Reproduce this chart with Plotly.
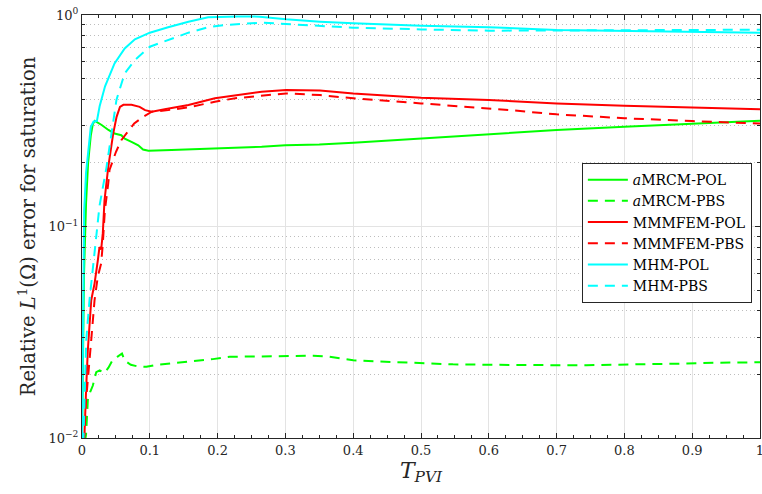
import plotly.graph_objects as go

# Relative L1 saturation error vs pore volumes injected, three methods x two schemes

t_amrcm_pol = [0, 0.001, 0.003, 0.006, 0.009, 0.013, 0.016, 0.019, 0.024, 0.029, 0.039, 0.048,
               0.058, 0.063, 0.073, 0.083, 0.09, 0.098, 0.132, 0.2, 0.265, 0.3, 0.35, 0.4,
               0.5, 0.6, 0.63, 0.7, 0.8, 0.9, 1.0]
e_amrcm_pol = [0.01, 0.02, 0.06, 0.13, 0.2, 0.27, 0.305, 0.316, 0.31, 0.302, 0.286, 0.275,
               0.27, 0.26, 0.251, 0.242, 0.231, 0.228, 0.23, 0.234, 0.238, 0.242, 0.244, 0.249,
               0.261, 0.273, 0.277, 0.286, 0.296, 0.307, 0.316]

t_amrcm_pbs = [0.004, 0.006, 0.0086, 0.012, 0.016, 0.021, 0.026, 0.033, 0.039, 0.045, 0.052,
               0.059, 0.063, 0.072, 0.082, 0.095, 0.11, 0.139, 0.164, 0.193, 0.218, 0.267,
               0.311, 0.341, 0.365, 0.4, 0.439, 0.488, 0.547, 0.597, 0.646, 0.695, 0.744,
               0.793, 0.843, 0.892, 0.941, 0.99, 1.0]
e_amrcm_pbs = [0.0095, 0.0104, 0.0151, 0.0165, 0.0177, 0.0205, 0.0209, 0.0203, 0.0215, 0.0233,
               0.0242, 0.0251, 0.0232, 0.0222, 0.0218, 0.0217, 0.0222, 0.0227, 0.023, 0.0236,
               0.0242, 0.0243, 0.0245, 0.0245, 0.0242, 0.0233, 0.023, 0.0227, 0.0223, 0.0222,
               0.0221, 0.0221, 0.0221, 0.0222, 0.0223, 0.0225, 0.0227, 0.0228, 0.0228]

t_mmmfem_pol = [0.001, 0.0037, 0.0062, 0.0086, 0.0136, 0.0185, 0.0233, 0.0258, 0.0283, 0.0307,
                0.0332, 0.0387, 0.046, 0.051, 0.056, 0.061, 0.073, 0.085, 0.093, 0.103, 0.122,
                0.132, 0.157, 0.196, 0.226, 0.265, 0.301, 0.351, 0.4, 0.5, 0.6, 0.7, 0.8, 0.9, 1.0]
e_mmmfem_pol = [0.0095, 0.0105, 0.0174, 0.026, 0.0448, 0.0537, 0.069, 0.08, 0.078, 0.093,
                0.133, 0.191, 0.275, 0.33, 0.368, 0.376, 0.376, 0.368, 0.355, 0.349, 0.358,
                0.362, 0.375, 0.404, 0.418, 0.434, 0.442, 0.44, 0.426, 0.406, 0.396, 0.382,
                0.372, 0.364, 0.358]

t_mmmfem_pbs = [0.003, 0.006, 0.0136, 0.0185, 0.0233, 0.0283, 0.0307, 0.0337, 0.0387, 0.0406,
                0.05, 0.058, 0.077, 0.09, 0.103, 0.127, 0.157, 0.196, 0.226, 0.265, 0.301,
                0.351, 0.4, 0.5, 0.6, 0.631, 0.7, 0.8, 0.9, 1.0]
e_mmmfem_pbs = [0.0095, 0.0151, 0.029, 0.0448, 0.058, 0.067, 0.083, 0.119, 0.16, 0.185,
                0.225, 0.256, 0.307, 0.33, 0.349, 0.355, 0.366, 0.389, 0.404, 0.416, 0.426,
                0.418, 0.404, 0.382, 0.362, 0.355, 0.339, 0.325, 0.315, 0.307]

t_mhm_pol = [0, 0.001, 0.002, 0.0032, 0.006, 0.009, 0.013, 0.017, 0.022, 0.026, 0.03, 0.034,
             0.048, 0.063, 0.078, 0.1, 0.127, 0.157, 0.186, 0.206, 0.23, 0.262, 0.301, 0.351,
             0.4, 0.5, 0.6, 0.7, 0.8, 0.9, 1.0]
e_mhm_pol = [0.0095, 0.02, 0.05, 0.119, 0.18, 0.23, 0.296, 0.313, 0.316, 0.37, 0.41, 0.46,
             0.59, 0.695, 0.767, 0.825, 0.875, 0.93, 0.975, 0.982, 0.985, 0.982, 0.954, 0.93,
             0.913, 0.89, 0.875, 0.85, 0.843, 0.834, 0.825]

t_mhm_pbs = [0.002, 0.0062, 0.0111, 0.0185, 0.0258, 0.0362, 0.0434, 0.0483, 0.0509, 0.063,
             0.078, 0.1, 0.127, 0.157, 0.186, 0.211, 0.265, 0.301, 0.361, 0.4, 0.5, 0.6,
             0.7, 0.8, 0.9, 1.0]
e_mhm_pbs = [0.0095, 0.029, 0.045, 0.077, 0.125, 0.191, 0.275, 0.355, 0.398, 0.53, 0.612,
             0.708, 0.76, 0.825, 0.875, 0.897, 0.92, 0.906, 0.887, 0.871, 0.855, 0.843,
             0.845, 0.848, 0.85, 0.852]

x_ticks = [0, 0.1, 0.2, 0.3, 0.4, 0.5, 0.6, 0.7, 0.8, 0.9, 1]
x_ticklabels = ["0", "0.1", "0.2", "0.3", "0.4", "0.5", "0.6", "0.7", "0.8", "0.9", "1"]
y_ticks = [0.01, 0.1, 1]
y_ticklabels = ["10<sup>\u22122</sup>", "10<sup>\u22121</sup>", "10<sup>0</sup>"]
y_minor = [m * d for d in (0.01, 0.1) for m in range(2, 10)]

GREEN, RED, CYAN = "#00ff00", "#ff0000", "#00ffff"
DASH = "10px,7px"
FONT = "DejaVu Serif, Liberation Serif, serif"
INK = "#262626"

series = [
    ("<i>a</i>MRCM-POL", t_amrcm_pol, e_amrcm_pol, GREEN, "solid"),
    ("<i>a</i>MRCM-PBS", t_amrcm_pbs, e_amrcm_pbs, GREEN, DASH),
    ("MMMFEM-POL", t_mmmfem_pol, e_mmmfem_pol, RED, "solid"),
    ("MMMFEM-PBS", t_mmmfem_pbs, e_mmmfem_pbs, RED, DASH),
    ("MHM-POL", t_mhm_pol, e_mhm_pol, CYAN, "solid"),
    ("MHM-PBS", t_mhm_pbs, e_mhm_pbs, CYAN, DASH),
]

fig = go.Figure()
for name, t, e, color, dash in series:
    fig.add_trace(go.Scatter(x=t, y=e, name=name, mode="lines",
                             line=dict(color=color, width=2, dash=dash)))

axis_common = dict(
    showline=True, linecolor=INK, linewidth=1, mirror="allticks",
    ticks="inside", ticklen=5, tickcolor=INK, ticklabeloverflow="allow",
    showgrid=True, gridcolor="#e3e3e3", gridwidth=1, zeroline=False,
    tickfont=dict(family=FONT, size=13, color=INK),
)

fig.update_xaxes(
    **axis_common, range=[0, 1], tickvals=x_ticks, ticktext=x_ticklabels,
    minor=dict(dtick=0.025, ticks="inside", ticklen=3, tickcolor=INK, showgrid=False),
    title=dict(text="<i>T</i><sub><i>PVI</i></sub>", standoff=2,
               font=dict(family=FONT, size=22, color=INK)),
)
fig.update_yaxes(
    **axis_common, type="log", range=[-2, 0], tickvals=y_ticks, ticktext=y_ticklabels,
    minor=dict(tickvals=y_minor, ticks="inside", ticklen=3, tickcolor=INK,
               showgrid=True, gridcolor="#bdbdbd", griddash="1px,3px", gridwidth=1),
    title=dict(text="Relative <i>L</i><sup>1</sup>(\u03a9) error for saturation", standoff=7,
               font=dict(family=FONT, size=19.5, color=INK)),
)

fig.update_layout(
    width=762, height=494,
    margin=dict(l=82, r=2, t=15, b=56, autoexpand=False),
    paper_bgcolor="white", plot_bgcolor="white",
    showlegend=True,
    legend=dict(x=0.988, y=0.65, xanchor="right", yanchor="top",
                bgcolor="white", bordercolor=INK, borderwidth=1,
                font=dict(family=FONT, size=14, color="#000000"),
                tracegroupgap=0, itemwidth=40),
)

fig.write_html("out.html")
